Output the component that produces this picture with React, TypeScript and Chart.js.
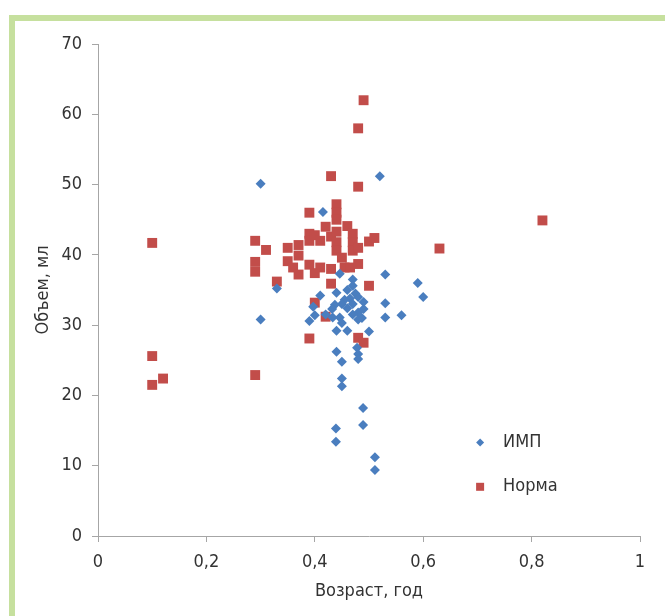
import React, { useEffect, useRef } from 'react';
import { Chart, registerables } from 'chart.js';
Chart.register(...registerables);

const seriesNames = ['ИМП', 'Норма'];
const xTitle = 'Возраст, год';
const yTitle = 'Объем, мл';

const impX = [0.30, 0.52, 0.30, 0.33, 0.415, 0.446, 0.53, 0.47, 0.59, 0.60, 0.56, 0.53, 0.53, 0.47, 0.475, 0.46, 0.465, 0.41, 0.455, 0.45, 0.46, 0.437, 0.432, 0.49, 0.49, 0.48, 0.487, 0.39, 0.40, 0.397, 0.433, 0.446, 0.45, 0.44, 0.46, 0.50, 0.478, 0.48, 0.48, 0.44, 0.45, 0.45, 0.45, 0.489, 0.489, 0.439, 0.439, 0.511, 0.511, 0.48, 0.47, 0.42, 0.44, 0.48, 0.47];
const impY = [50.1, 51.2, 30.8, 35.2, 46.1, 37.3, 37.2, 36.5, 36.0, 34.0, 31.4, 33.1, 31.1, 35.6, 34.5, 35.0, 33.8, 34.2, 33.6, 33.0, 32.4, 32.9, 32.3, 33.3, 32.3, 31.8, 31.0, 30.6, 31.4, 32.6, 31.1, 31.1, 30.3, 29.2, 29.2, 29.1, 26.8, 25.9, 25.2, 26.2, 24.8, 22.4, 21.3, 18.2, 15.8, 15.3, 13.4, 11.2, 9.4, 34.0, 33.0, 31.5, 34.6, 30.8, 31.5];

const normX = [0.10, 0.10, 0.10, 0.12, 0.29, 0.29, 0.29, 0.29, 0.31, 0.33, 0.35, 0.35, 0.36, 0.37, 0.37, 0.37, 0.39, 0.39, 0.39, 0.39, 0.39, 0.40, 0.40, 0.40, 0.41, 0.41, 0.42, 0.42, 0.43, 0.43, 0.43, 0.43, 0.44, 0.44, 0.44, 0.44, 0.44, 0.44, 0.45, 0.455, 0.46, 0.465, 0.47, 0.47, 0.47, 0.48, 0.48, 0.48, 0.48, 0.48, 0.49, 0.49, 0.50, 0.50, 0.51, 0.63, 0.82];
const normY = [41.7, 25.6, 21.5, 22.4, 42.0, 39.0, 37.6, 22.9, 40.7, 36.2, 41.0, 39.1, 38.2, 41.4, 39.9, 37.2, 46.0, 43.0, 42.0, 38.6, 28.1, 42.8, 37.4, 33.2, 42.0, 38.2, 44.0, 31.2, 51.2, 42.6, 38.0, 35.9, 47.2, 46.0, 45.0, 43.3, 41.8, 40.6, 39.6, 38.2, 44.1, 38.2, 43.0, 41.8, 40.6, 58.0, 49.7, 41.0, 38.7, 28.2, 62.0, 27.5, 41.9, 35.6, 42.4, 40.9, 44.9];

const BLUE = '#4a7ebf';
const RED = '#c24d4a';
const TEXT = '#333333';
const AXIS = '#a6a6a6';
const FONT = "'Liberation Sans Narrow', 'DejaVu Sans Condensed', 'Roboto Condensed', 'Liberation Sans', sans-serif";

const fmt = (v: number) => {
  const r = Math.round(v * 10) / 10;
  return String(r).replace('.', ',');
};

const legendPlugin = {
  id: 'customLegend',
  afterDraw(chart: any) {
    const { ctx, chartArea } = chart;
    const w = chartArea.right - chartArea.left;
    const h = chartArea.bottom - chartArea.top;
    const mx = chartArea.left + w * 0.705;
    const y1 = chartArea.top + h * 0.810;
    const y2 = chartArea.top + h * 0.900;
    ctx.save();
    ctx.fillStyle = BLUE;
    ctx.beginPath();
    ctx.moveTo(mx, y1 - 4);
    ctx.lineTo(mx + 4, y1);
    ctx.lineTo(mx, y1 + 4);
    ctx.lineTo(mx - 4, y1);
    ctx.closePath();
    ctx.fill();
    ctx.fillStyle = RED;
    ctx.fillRect(mx - 4, y2 - 4, 8, 8);
    ctx.fillStyle = TEXT;
    ctx.font = `18px ${FONT}`;
    ctx.textBaseline = 'middle';
    ctx.textAlign = 'left';
    ctx.fillText(seriesNames[0], mx + 23, y1);
    ctx.fillText(seriesNames[1], mx + 23, y2);
    ctx.restore();
  },
};

export default function App() {
  const ref = useRef<HTMLCanvasElement | null>(null);
  useEffect(() => {
    document.body.style.margin = '0';
    const ctx = ref.current!;
    const chart = new Chart(ctx, {
      type: 'scatter',
      data: {
        datasets: [
          {
            label: seriesNames[0],
            data: impX.map((x, i) => ({ x, y: impY[i] })),
            pointStyle: 'rectRot',
            pointRadius: 5,
            backgroundColor: BLUE,
            borderColor: BLUE,
            borderWidth: 0,
          },
          {
            label: seriesNames[1],
            data: normX.map((x, i) => ({ x, y: normY[i] })),
            pointStyle: 'rect',
            pointRadius: 7,
            backgroundColor: RED,
            borderColor: RED,
            borderWidth: 0,
          },
        ],
      },
      options: {
        animation: false,
        responsive: false,
        maintainAspectRatio: false,
        layout: { padding: { left: 30, right: 25, top: 44, bottom: 0 } },
        plugins: { legend: { display: false }, tooltip: { enabled: false } },
        scales: {
          x: {
            type: 'linear',
            min: 0,
            max: 1,
            ticks: {
              stepSize: 0.2,
              color: TEXT,
              font: { family: FONT, size: 18 },
              padding: 10,
              callback: (v: any) => fmt(Number(v)),
            },
            grid: { display: true, drawOnChartArea: false, drawTicks: true, tickLength: 6, color: AXIS },
            border: { display: true, color: AXIS, width: 1 },
            title: { display: true, text: xTitle, color: TEXT, font: { family: FONT, size: 18 }, padding: { top: 0, bottom: 14 } },
            afterFit: (s: any) => { s.height = 80; },
          },
          y: {
            type: 'linear',
            min: 0,
            max: 70,
            ticks: {
              stepSize: 10,
              color: TEXT,
              font: { family: FONT, size: 18 },
              padding: 10,
              callback: (v: any) => fmt(Number(v)),
            },
            grid: { display: true, drawOnChartArea: false, drawTicks: true, tickLength: 6, color: AXIS },
            border: { display: true, color: AXIS, width: 1 },
            title: { display: true, text: yTitle, color: TEXT, font: { family: FONT, size: 18 }, padding: { top: 3, bottom: 0 } },
            afterFit: (s: any) => { s.width = 68; },
          },
        },
      },
      plugins: [legendPlugin],
    });
    return () => chart.destroy();
  }, []);
  return (
    <div style={{ position: 'fixed', left: 0, top: 0, width: 665, height: 616, background: '#fff', overflow: 'hidden' }}>
      <div style={{ position: 'absolute', left: 9, top: 15, width: 700, height: 700, borderTop: '6px solid #c6e09e', borderLeft: '6px solid #c6e09e' }} />
      <canvas ref={ref} width={665} height={616} style={{ position: 'absolute', left: 0, top: 0 }} />
    </div>
  );
}
